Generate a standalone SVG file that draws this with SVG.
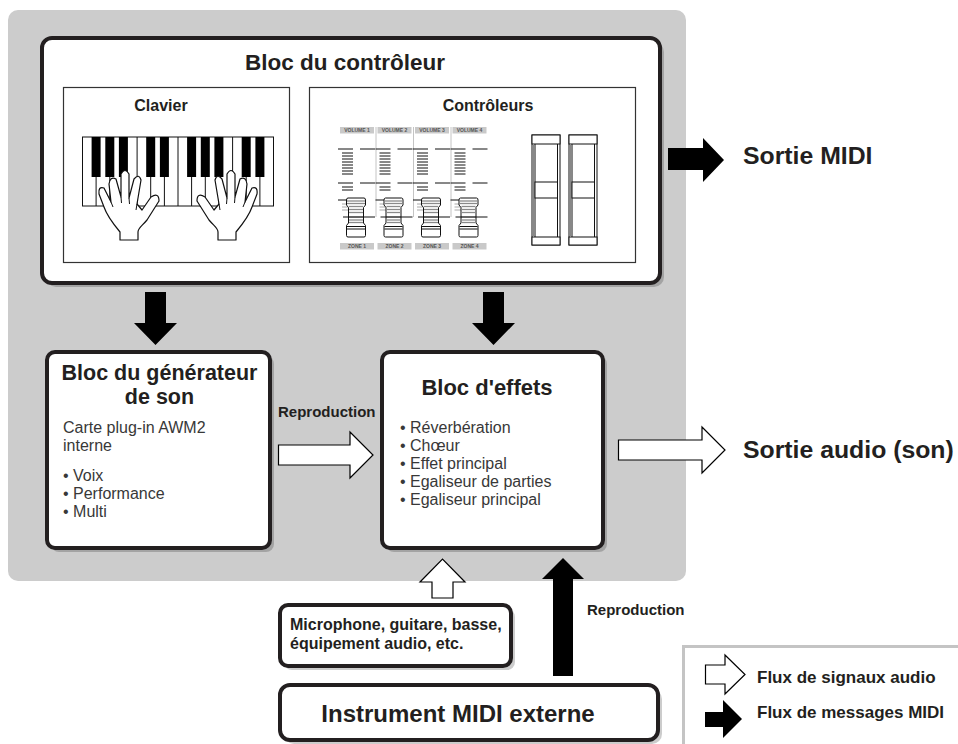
<svg xmlns="http://www.w3.org/2000/svg" width="958" height="744" viewBox="0 0 958 744">
  <style>
    .t { font-family: "Liberation Sans", Arial, Helvetica, sans-serif; fill: #231f20; }
    .b { font-weight: bold; }
    .r { fill: #383838; }
    .box { fill: #ffffff; stroke: #231f20; stroke-width: 4; }
    .shadow { fill: #000000; opacity: 0.2; }
    .panel { fill: #ffffff; stroke: #333333; stroke-width: 1.2; }
    .solid { fill: #000000; }
    .hollow { fill: #ffffff; stroke: #000000; stroke-width: 1.2; stroke-linejoin: miter; }
    .tick { stroke: #111111; stroke-width: 1; }
    .ltick { stroke: #aaaaaa; stroke-width: 1; }
    .sep { stroke: #c4c4c4; stroke-width: 1; }
    .lab { fill: #c9c9c9; }
    .labt { font-family: "Liberation Sans", Arial, sans-serif; font-weight: bold; font-size: 5px; fill: #555555; text-anchor: middle; }
    .hand { fill: #ffffff; stroke: #111111; stroke-width: 1.2; stroke-linejoin: round; }
    .slider { fill: #ffffff; stroke: #111111; stroke-width: 1; }
  </style>
  <defs>
    <!-- one fader channel: scale ticks, knob and centre line -->
    <g id="fader">
      <line class="tick" x1="338" y1="149" x2="353" y2="149"/>
      <line class="tick" x1="360" y1="149" x2="375" y2="149"/>
      <line class="tick" x1="342" y1="153" x2="353" y2="153"/>
      <line class="tick" x1="342" y1="156" x2="353" y2="156"/>
      <line class="tick" x1="342" y1="159" x2="353" y2="159"/>
      <line class="tick" x1="342" y1="162" x2="353" y2="162"/>
      <line class="tick" x1="342" y1="165" x2="353" y2="165"/>
      <line class="tick" x1="342" y1="168" x2="353" y2="168"/>
      <line class="tick" x1="342" y1="171" x2="353" y2="171"/>
      <line class="tick" x1="342" y1="174" x2="353" y2="174"/>
      <line class="tick" x1="338" y1="183" x2="353" y2="183"/>
      <line class="tick" x1="360" y1="183" x2="375" y2="183"/>
      <line class="tick" x1="342" y1="187" x2="353" y2="187"/>
      <line class="tick" x1="342" y1="190" x2="353" y2="190"/>
      <line class="tick" x1="338" y1="200" x2="353" y2="200"/>
      <line class="ltick" x1="342" y1="204" x2="353" y2="204"/>
      <line class="ltick" x1="342" y1="207" x2="353" y2="207"/>
      <line class="ltick" x1="342" y1="210" x2="353" y2="210"/>
      <line class="tick" x1="343" y1="217" x2="375" y2="217"/>
      <path class="slider" d="M348,198 H364 Q365.5,198 365.5,200 V205 L363.5,207.5 V223 L365.5,225.5 V235.5 Q365.5,237 364,237 H348 Q346.5,237 346.5,235.5 V225.5 L348.5,223 V207.5 L346.5,205 V200 Q346.5,198 348,198 Z" stroke-width="1.3"/>
      <g stroke="#8a8a8a" stroke-width="1.3">
        <line x1="347" y1="201" x2="365" y2="201"/>
        <line x1="347" y1="203.5" x2="365" y2="203.5"/>
        <line x1="349" y1="206.5" x2="363" y2="206.5"/>
        <line x1="349" y1="209.5" x2="363" y2="209.5"/>
        <line x1="349" y1="212.5" x2="363" y2="212.5"/>
        <line x1="349" y1="220" x2="363" y2="220"/>
        <line x1="349" y1="222.5" x2="363" y2="222.5"/>
      </g>
      <line stroke="#111111" stroke-width="1.3" x1="348.5" y1="217" x2="363.5" y2="217"/>
      <line stroke="#111111" stroke-width="1" x1="347" y1="226.5" x2="365" y2="226.5"/>
      <line stroke="#111111" stroke-width="1" x1="347" y1="229" x2="365" y2="229"/>
    </g>
    <!-- vertical pitch/mod wheel -->
    <g id="wheel">
      <rect class="slider" x="532" y="135" width="28" height="110"/>
      <rect class="slider" x="532" y="135" width="28" height="9"/>
      <rect class="slider" x="532" y="237" width="28" height="8"/>
      <line stroke="#111111" stroke-width="1" x1="535" y1="144" x2="535" y2="237"/>
      <line stroke="#888888" stroke-width="1" x1="533.5" y1="144" x2="533.5" y2="237"/>
      <line stroke="#111111" stroke-width="1" x1="557.5" y1="144" x2="557.5" y2="237"/>
      <rect class="slider" x="535" y="182" width="22.5" height="16"/>
    </g>
    <!-- left hand seen from above; the right hand is its mirror -->
    <g id="handL">
      <path class="hand" d="M-9,0 L-9,-8 C-14,-14 -22,-24 -25,-33 L-30,-46 Q-31,-54 -25,-52 L-18,-38 L-20,-56 Q-19,-64 -13,-61 L-8,-43 L-8,-66 Q-4,-73 0,-66 L0,-42 L5,-61 Q10,-67 12,-60 L8,-36 L13,-30 L22,-43 Q30,-48 30,-39 L18,-20 C13,-14 9,-12 9,-8 L9,0 Z"/>
      <path d="M-18,-38 L-16,-33 M-8,-43 L-7.5,-37 M0,-42 L0.5,-36 M8,-36 L7,-30" fill="none" stroke="#111111" stroke-width="1"/>
    </g>
  </defs>

  <!-- instrument body -->
  <rect x="8" y="10" width="678" height="571" rx="10" fill="#cccccc"/>

  <!-- controller block -->
  <g id="controller-block">
    <rect class="shadow" x="46" y="42" width="618" height="245" rx="10"/>
    <rect class="box" x="42" y="38" width="618" height="245" rx="10"/>
    <text class="t b" x="345" y="70" font-size="22.5" text-anchor="middle">Bloc du contrôleur</text>

    <g id="keyboard-panel">
      <rect class="panel" x="63.5" y="87.5" width="226" height="175"/>
      <text class="t b" x="161" y="111" font-size="16" text-anchor="middle">Clavier</text>
      <g id="keys" stroke="#111111" stroke-width="1">
        <rect x="82.5" y="137" width="191" height="69" fill="#ffffff"/>
        <line x1="96.1" y1="137" x2="96.1" y2="206"/>
        <line x1="109.8" y1="137" x2="109.8" y2="206"/>
        <line x1="123.4" y1="137" x2="123.4" y2="206"/>
        <line x1="137.1" y1="137" x2="137.1" y2="206"/>
        <line x1="150.7" y1="137" x2="150.7" y2="206"/>
        <line x1="164.4" y1="137" x2="164.4" y2="206"/>
        <line x1="178" y1="137" x2="178" y2="206"/>
        <line x1="191.6" y1="137" x2="191.6" y2="206"/>
        <line x1="205.3" y1="137" x2="205.3" y2="206"/>
        <line x1="218.9" y1="137" x2="218.9" y2="206"/>
        <line x1="232.6" y1="137" x2="232.6" y2="206"/>
        <line x1="246.2" y1="137" x2="246.2" y2="206"/>
        <line x1="259.9" y1="137" x2="259.9" y2="206"/>
      </g>
      <g id="black-keys" fill="#000000">
        <rect x="91.6" y="137" width="9" height="40"/>
        <rect x="105.3" y="137" width="9" height="40"/>
        <rect x="118.9" y="137" width="9" height="40"/>
        <rect x="146.2" y="137" width="9" height="40"/>
        <rect x="159.9" y="137" width="9" height="40"/>
        <rect x="187.1" y="137" width="9" height="40"/>
        <rect x="200.8" y="137" width="9" height="40"/>
        <rect x="214.4" y="137" width="9" height="40"/>
        <rect x="241.7" y="137" width="9" height="40"/>
        <rect x="255.4" y="137" width="9" height="40"/>
      </g>
      <use href="#handL" transform="translate(129,240)"/>
      <use href="#handL" transform="translate(227,240) scale(-1,1)"/>
    </g>

    <g id="controllers-panel">
      <rect class="panel" x="309.5" y="87.5" width="326" height="175"/>
      <text class="t b" x="488" y="111" font-size="16" text-anchor="middle">Contrôleurs</text>
      <line class="sep" x1="376" y1="127" x2="376" y2="217"/>
      <line class="sep" x1="413.5" y1="127" x2="413.5" y2="217"/>
      <line class="sep" x1="451" y1="127" x2="451" y2="217"/>
      <rect class="lab" x="340" y="127" width="34" height="6.5"/>
      <rect class="lab" x="377.5" y="127" width="34" height="6.5"/>
      <rect class="lab" x="415" y="127" width="34" height="6.5"/>
      <rect class="lab" x="452.5" y="127" width="34" height="6.5"/>
      <text class="labt" x="357" y="132.3">VOLUME 1</text>
      <text class="labt" x="394.5" y="132.3">VOLUME 2</text>
      <text class="labt" x="432" y="132.3">VOLUME 3</text>
      <text class="labt" x="469.5" y="132.3">VOLUME 4</text>
      <use href="#fader"/>
      <use href="#fader" transform="translate(37.5,0)"/>
      <use href="#fader" transform="translate(75,0)"/>
      <use href="#fader" transform="translate(112.5,0)"/>
      <rect class="lab" x="340" y="243" width="34" height="6.5"/>
      <rect class="lab" x="377.5" y="243" width="34" height="6.5"/>
      <rect class="lab" x="415" y="243" width="34" height="6.5"/>
      <rect class="lab" x="452.5" y="243" width="34" height="6.5"/>
      <text class="labt" x="357" y="248.3">ZONE 1</text>
      <text class="labt" x="394.5" y="248.3">ZONE 2</text>
      <text class="labt" x="432" y="248.3">ZONE 3</text>
      <text class="labt" x="469.5" y="248.3">ZONE 4</text>
      <use href="#wheel"/>
      <use href="#wheel" transform="translate(37,0)"/>
    </g>
  </g>

  <!-- sound generator block -->
  <g id="tone-generator">
    <rect class="shadow" x="51" y="356" width="223" height="196" rx="8"/>
    <rect class="box" x="47" y="352" width="223" height="196" rx="8"/>
    <text class="t b" x="159.5" y="380" font-size="21.5" text-anchor="middle">Bloc du générateur</text>
    <text class="t b" x="159.5" y="404" font-size="21.5" text-anchor="middle">de son</text>
    <text class="t r" x="63" y="433" font-size="16">Carte plug-in AWM2</text>
    <text class="t r" x="63" y="451" font-size="16">interne</text>
    <text class="t r" x="63" y="481" font-size="16">• Voix</text>
    <text class="t r" x="63" y="499" font-size="16">• Performance</text>
    <text class="t r" x="63" y="517" font-size="16">• Multi</text>
  </g>

  <!-- effect block -->
  <g id="effect-block">
    <rect class="shadow" x="386" y="356" width="221" height="196" rx="8"/>
    <rect class="box" x="382" y="352" width="221" height="196" rx="8"/>
    <text class="t b" x="487" y="395" font-size="22" text-anchor="middle">Bloc d'effets</text>
    <text class="t r" x="400" y="433" font-size="16">• Réverbération</text>
    <text class="t r" x="400" y="451" font-size="16">• Chœur</text>
    <text class="t r" x="400" y="469" font-size="16">• Effet principal</text>
    <text class="t r" x="400" y="487" font-size="16">• Egaliseur de parties</text>
    <text class="t r" x="400" y="505" font-size="16">• Egaliseur principal</text>
  </g>

  <!-- external audio source -->
  <g id="audio-input">
    <rect class="shadow" x="284" y="609" width="231" height="61" rx="8"/>
    <rect class="box" x="280" y="605" width="231" height="61" rx="8"/>
    <text class="t b" x="290" y="630" font-size="16">Microphone, guitare, basse,</text>
    <text class="t b" x="290" y="649" font-size="16">équipement audio, etc.</text>
  </g>

  <!-- external MIDI instrument -->
  <g id="midi-instrument">
    <rect class="shadow" x="284" y="689" width="378" height="55" rx="10"/>
    <rect class="box" x="280" y="685" width="378" height="55" rx="10"/>
    <text class="t b" x="458" y="722" font-size="24" text-anchor="middle">Instrument MIDI externe</text>
  </g>

  <!-- flow arrows -->
  <g id="connectors">
    <polygon class="solid" points="145,292 166,292 166,323 177,323 155.5,345 134,323 145,323"/>
    <polygon class="solid" points="483,292 504,292 504,323 515,323 493.5,345 472,323 483,323"/>
    <polygon class="solid" points="668,148 703,148 703,138 724,160 703,182 703,170 668,170"/>
    <polygon class="hollow" points="278.5,445 350,445 350,432 373,455 350,478 350,465 278.5,465"/>
    <polygon class="hollow" points="618.5,440 702,440 702,427 725,450 702,473 702,460 618.5,460"/>
    <polygon class="hollow" points="432,598 432,582 420,582 442.5,559 465,582 453,582 453,598"/>
    <polygon class="solid" points="553,676 553,579 542,579 563,558 584,579 573,579 573,676"/>
  </g>

  <!-- flow labels -->
  <text class="t b" x="743" y="164" font-size="24.8">Sortie MIDI</text>
  <text class="t b" x="743" y="458" font-size="24.8">Sortie audio (son)</text>
  <text class="t b" x="278" y="417" font-size="15">Reproduction</text>
  <text class="t b" x="587" y="615" font-size="15">Reproduction</text>

  <!-- legend -->
  <g id="legend">
    <rect x="683.5" y="646.5" width="290" height="110" fill="#ffffff" stroke="#c4c4c4" stroke-width="3"/>
    <polygon class="hollow" points="705.5,665 725,665 725,655 745,674.5 725,694 725,684 705.5,684"/>
    <polygon class="solid" points="705,712 723,712 723,700 742,719 723,738 723,727 705,727"/>
    <text class="t b" x="757" y="683" font-size="17">Flux de signaux audio</text>
    <text class="t b" x="757" y="718" font-size="17">Flux de messages MIDI</text>
  </g>
</svg>
